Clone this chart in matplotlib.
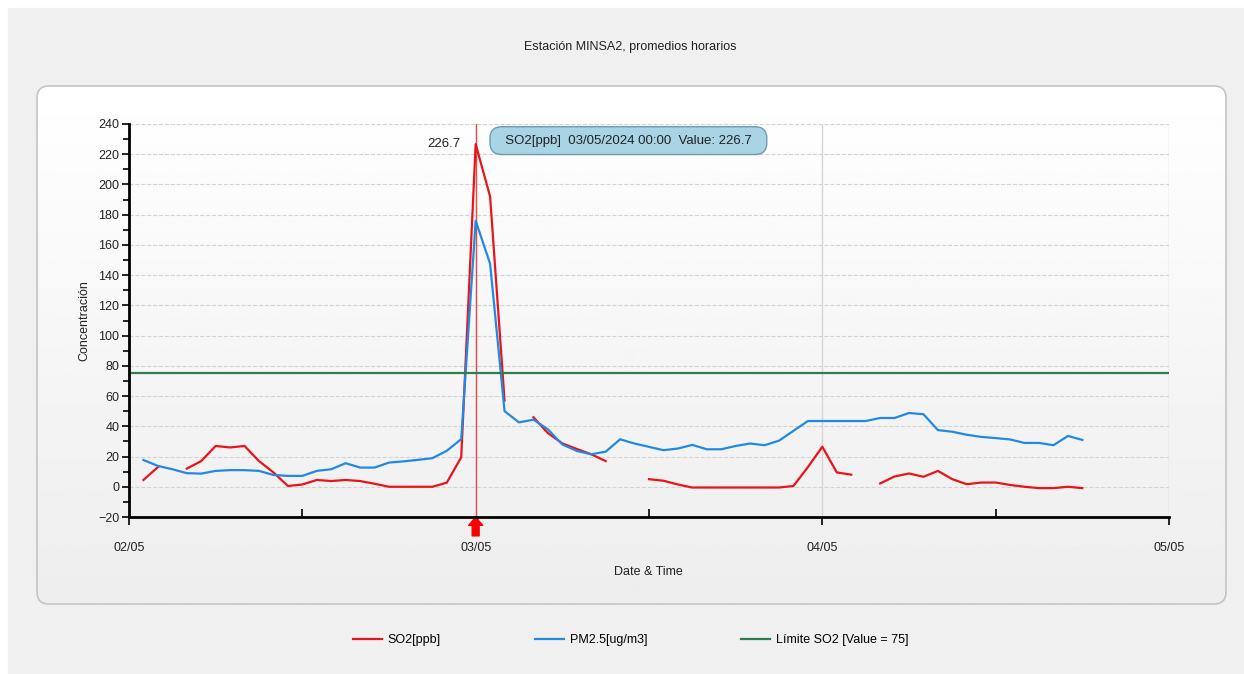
import numpy as np
import pandas as pd
import matplotlib
matplotlib.use('Agg')  # no display
import matplotlib.pyplot as plt
from matplotlib.patches import FancyBboxPatch, Rectangle
from matplotlib.ticker import MultipleLocator

plt.rcParams['font.family'] = ['Liberation Sans', 'DejaVu Sans']

# hourly averages, 02/05/2024 01:00 -> 04/05/2024 18:00 (nan = no data)
hours = pd.date_range('2024-05-02 01:00', '2024-05-04 18:00', freq='h')
so2 = [4.5, 13, np.nan, 12, 17, 27, 26, 27, 17, 9.5, 0.5, 1.5,
       4.5, 3.8, 4.5, 3.8, 2, 0, 0, 0, 0, 2.7, 19.5, 226.7,
       192, 57, np.nan, 46, 35.5, 28.7, 25, 21.5, 17, np.nan, np.nan, 5,
       4, 1.5, -0.5, -0.5, -0.5, -0.5, -0.5, -0.5, -0.5, 0.5, 13, 26.5,
       9.5, 8, np.nan, 2.2, 6.8, 8.8, 6.6, 10.5, 5, 1.7, 2.8, 2.8,
       1.2, 0, -0.9, -0.9, 0, -0.9]
pm25 = [17.7, 13.8, 11.6, 9, 8.7, 10.5, 11, 11, 10.5, 7.8, 7.2, 7.2,
        10.5, 11.6, 15.6, 12.7, 12.7, 16, 16.8, 17.8, 18.9, 23.8, 31.5, 176,
        147.5, 50, 42.6, 44.4, 38, 28, 23.7, 21.5, 23.2, 31.4, 28.6, 26.4,
        24.2, 25.3, 27.7, 24.8, 24.8, 27, 28.6, 27.5, 30.5, 37, 43.5, 43.5,
        43.5, 43.5, 43.5, 45.5, 45.5, 48.8, 48, 37.5, 36.4, 34.4, 33, 32.2,
        31.3, 29, 29, 27.5, 33.6, 31]
so2_limit = 75
peak_time = pd.Timestamp('2024-05-03 00:00')
peak_value = 226.7

day_ticks = pd.date_range('2024-05-02', '2024-05-05', freq='D')
day_labels = ['02/05', '03/05', '04/05', '05/05']
half_ticks = pd.date_range('2024-05-02 12:00', periods=3, freq='D')

fig = plt.figure(figsize=(12.44, 6.74), dpi=100)
fig.patch.set_facecolor('white')

# background: gray form + rounded white panel with soft gradient
bg = fig.add_axes([0, 0, 1, 1], zorder=-2)
bg.axis('off')
bg.add_patch(Rectangle((8, 8), 1236, 666, color='#f0f0f0'))
panel = FancyBboxPatch((37, 86), 1189, 518, boxstyle='round,pad=0,rounding_size=12',
                       fc='none', ec='#c4c4c4', lw=1.2, zorder=3)
bg.add_patch(panel)
grad = np.linspace(1.0, 0.93, 256).reshape(-1, 1)
im = bg.imshow(grad, extent=(37, 1226, 604, 86), cmap='gray', vmin=0, vmax=1,
               aspect='auto', zorder=2)
im.set_clip_path(panel)
bg.set_xlim(0, 1244)
bg.set_ylim(674, 0)

ax = fig.add_axes([129 / 1244, 1 - 517 / 674, 1040 / 1244, 393 / 674])
ax.patch.set_alpha(0)

ax.plot(hours, so2, color='#e8141a', lw=1.6, label='SO2[ppb]', zorder=3)
ax.plot(hours, pm25, color='#2189e3', lw=1.6, label='PM2.5[ug/m3]', zorder=3)
ax.axhline(so2_limit, color='#2e7d4f', lw=1.6, label='Límite SO2 [Value = 75]', zorder=3)

# cursor at the selected point
ax.axvline(peak_time, color='#d95050', lw=1, zorder=2)
ax.annotate('226.7', xy=(peak_time, peak_value), xytext=(-11, 0),
            textcoords='offset points', ha='right', va='center', fontsize=9.5, color='#222222')
ax.annotate('  SO2[ppb]  03/05/2024 00:00  Value: 226.7  ', xy=(peak_time, peak_value),
            xytext=(16, 2.5), textcoords='offset points', ha='left', va='center',
            fontsize=9.5, color='#222222', zorder=5,
            bbox=dict(boxstyle='round,pad=0.6,rounding_size=0.9', fc='#a8d4e6', ec='#6f9bb0', lw=1))
ax.annotate('', xy=(peak_time, 0), xycoords=('data', 'axes fraction'),
            xytext=(peak_time, -0.048), textcoords=('data', 'axes fraction'),
            arrowprops=dict(arrowstyle='simple,head_length=0.6,head_width=1.0,tail_width=0.5',
                            color='red', shrinkA=0, shrinkB=0),
            annotation_clip=False)

ax.set_xlim(day_ticks[0], day_ticks[-1])
ax.set_ylim(-20, 240)
ax.set_xticks(day_ticks)
ax.set_xticklabels(day_labels)
ax.set_xticks(half_ticks, minor=True)
ax.yaxis.set_major_locator(MultipleLocator(20))
ax.yaxis.set_minor_locator(MultipleLocator(10))

ax.tick_params(axis='x', which='major', direction='out', length=6, width=1.2, pad=12,
               labelsize=9, labelcolor='#222222')
ax.tick_params(axis='x', which='minor', direction='in', length=6, width=1.2)
ax.tick_params(axis='y', which='major', direction='out', length=5, width=1.2, pad=2,
               labelsize=9, labelcolor='#222222')
ax.tick_params(axis='y', which='minor', direction='out', length=4, width=1.2)

for s in ['top', 'right']:
    ax.spines[s].set_visible(False)
for s in ['left', 'bottom']:
    ax.spines[s].set_linewidth(2)
    ax.spines[s].set_zorder(4)

ax.yaxis.grid(True, which='major', ls='--', color='#d2d2d2', lw=0.8)
ax.xaxis.grid(True, which='major', ls='-', color='#d6d6d6', lw=1)
ax.set_axisbelow(True)

ax.set_ylabel('Concentración', fontsize=9, color='#222222')
ax.yaxis.set_label_coords(-0.037, 0.5)
ax.set_xlabel('Date & Time', fontsize=9, color='#222222')
ax.xaxis.set_label_coords(0.499, -0.125)

fig.text(0.507, 1 - 47 / 674, 'Estación MINSA2, promedios horarios',
         ha='center', va='center', fontsize=9, color='#222222')

fig.legend(loc='center', bbox_to_anchor=(0.507, 1 - 640 / 674), ncol=3, frameon=False,
           fontsize=9, handlelength=2.3, columnspacing=7.5, handletextpad=0.5)

plt.savefig('out.png', dpi=100)
